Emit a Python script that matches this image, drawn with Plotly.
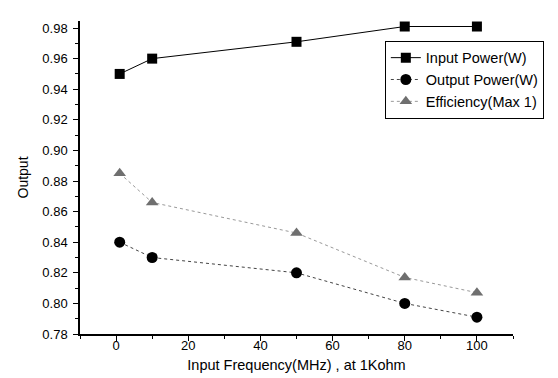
import plotly.graph_objects as go

freq = [1, 10, 50, 80, 100]
input_power = [0.950, 0.960, 0.971, 0.981, 0.981]
output_power = [0.840, 0.830, 0.820, 0.800, 0.791]
efficiency = [0.885, 0.866, 0.846, 0.817, 0.807]

fig = go.Figure()
fig.add_trace(go.Scatter(x=freq, y=input_power, mode="lines+markers", name="Input Power(W)",
                         line=dict(color="black", width=1),
                         marker=dict(symbol="square", size=10, color="black")))
fig.add_trace(go.Scatter(x=freq, y=output_power, mode="lines+markers", name="Output Power(W)",
                         line=dict(color="#444444", width=1, dash="dot"),
                         marker=dict(symbol="circle", size=11, color="black")))
fig.add_trace(go.Scatter(x=freq, y=efficiency, mode="lines+markers", name="Efficiency(Max 1)",
                         line=dict(color="#999999", width=1, dash="dot"),
                         marker=dict(symbol="triangle-up", size=11, color="#6f6f6f")))

font = "Liberation Sans, Arial, sans-serif"
fig.update_layout(
    width=558, height=378,
    margin=dict(l=72, r=53, t=13, b=52),
    paper_bgcolor="white", plot_bgcolor="white",
    font=dict(family=font, size=12, color="black"),
    showlegend=True,
    legend=dict(x=0.704, y=0.937, xanchor="left", yanchor="top",
                bordercolor="black", borderwidth=1, bgcolor="white",
                font=dict(size=14.5), tracegroupgap=0, itemwidth=30),
    xaxis=dict(range=[-10, 110], tickvals=[0, 20, 40, 60, 80, 100],
               showline=True, linecolor="black", linewidth=1.5,
               ticks="outside", ticklen=5, tickcolor="black", showgrid=False, zeroline=False,
               minor=dict(dtick=10, tick0=0, ticks="outside", ticklen=3, tickcolor="black"),
               title=dict(text="Input Frequency(MHz) , at 1Kohm", font=dict(size=14.5), standoff=8),
               ticklabelstandoff=-6,
               tickfont=dict(size=13)),
    yaxis=dict(range=[0.78, 0.9846], tickvals=[0.78, 0.80, 0.82, 0.84, 0.86, 0.88, 0.90, 0.92, 0.94, 0.96, 0.98],
               tickformat=".2f",
               showline=True, linecolor="black", linewidth=1.5,
               ticks="outside", ticklen=5, tickcolor="black", showgrid=False, zeroline=False,
               minor=dict(dtick=0.01, tick0=0.78, ticks="outside", ticklen=3, tickcolor="black"),
               title=dict(text="Output", font=dict(size=14), standoff=10),
               ticklabelstandoff=3,
               tickfont=dict(size=13)),
)
fig.write_html("out.html")
